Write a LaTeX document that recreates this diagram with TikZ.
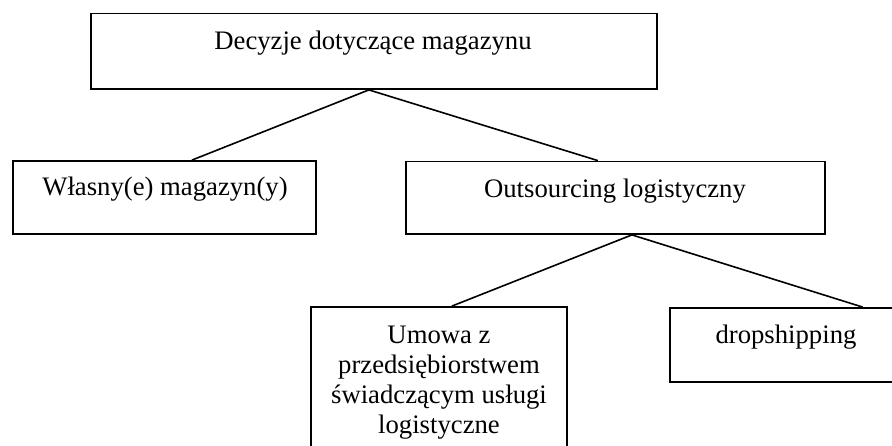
\documentclass[tikz,border=0pt]{standalone}
\usepackage{fontspec}
\setmainfont{Liberation Serif}
\usetikzlibrary{calc}
\begin{document}
\begin{tikzpicture}[x=1pt,y=-1pt,
  box/.style={draw=black,line width=1.8pt,minimum width=#1,inner sep=0pt},
  lbl/.style={font=\fontsize{26.7}{30}\selectfont,inner sep=0pt,align=center},
  conn/.style={draw=black,line width=1.6pt}]
\useasboundingbox (0,0) rectangle (892,446);
\begin{scope}
\clip (0,0) rectangle (892,446);
% boxes
\node[box=566pt,minimum height=75.5pt] (top) at (374,51.25) {};
\node[box=303pt,minimum height=73pt] (own) at (164.5,197.5) {};
\node[box=419pt,minimum height=72.5pt] (out) at (615.5,197.75) {};
\node[box=256pt,minimum height=160pt] (umo) at (439,387) {};
\node[box=232pt,minimum height=74pt] (drop) at (786,345) {};
% texts
\node[lbl] (ttop) at (373,43) {Decyzje dotyczące magazynu};
\node[lbl] (town) at (165,189) {Własny(e) magazyn(y)};
\node[lbl] (tout) at (615,191) {Outsourcing logistyczny};
\node[lbl] (tumo) at (439,382.5) {Umowa z\\przedsiębiorstwem\\świadczącym usługi\\logistyczne};
\node[lbl] (tdrop) at (786,337.5) {dropshipping};
% connector points
\coordinate (p0) at ($(top.south west)!0.491!(top.south east)$);
\coordinate (p1) at ($(own.north west)!0.59!(own.north east)$);
\coordinate (p2) at ($(out.north west)!0.458!(out.north east)$);
\coordinate (p3) at ($(out.south west)!0.539!(out.south east)$);
\coordinate (p4) at ($(umo.north west)!0.55!(umo.north east)$);
\coordinate (p5) at ($(drop.north west)!0.828!(drop.north east)$);
\draw[conn] (p1) -- (p0) -- (p2);
\draw[conn] (p4) -- (p3) -- (p5);
\end{scope}
\end{tikzpicture}
\end{document}
